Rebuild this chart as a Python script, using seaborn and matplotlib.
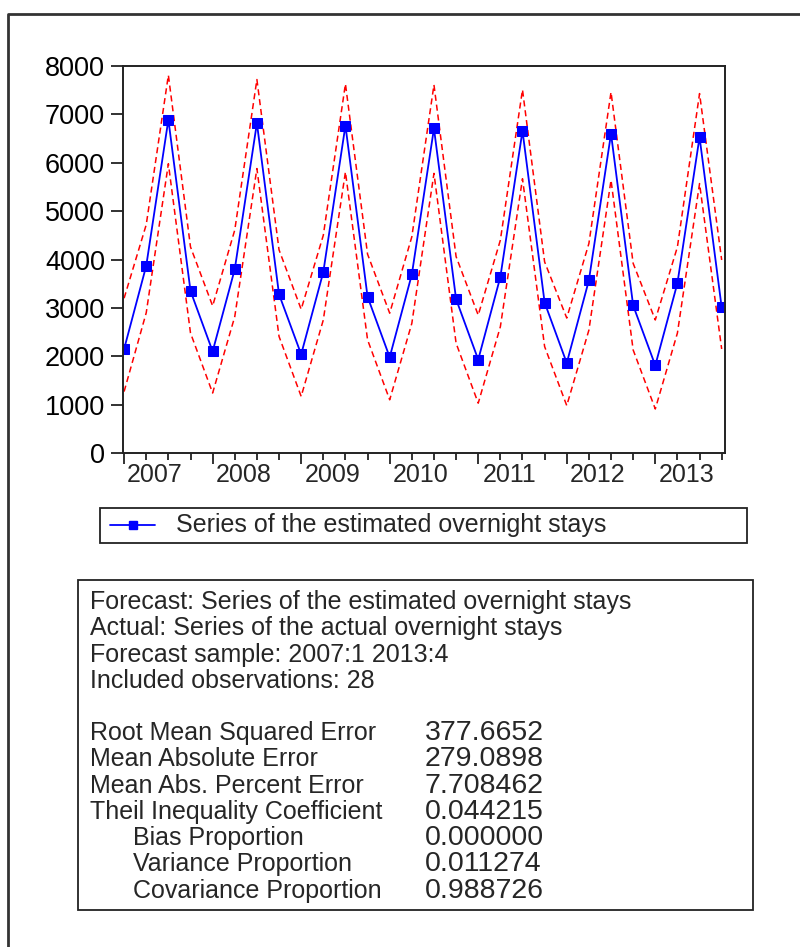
import matplotlib
matplotlib.use("Agg")
import matplotlib.pyplot as plt
import seaborn as sns
import numpy as np
import pandas as pd
from matplotlib.lines import Line2D
from matplotlib.patches import Rectangle

# ---------------- data ----------------
years = ["2007", "2008", "2009", "2010", "2011", "2012", "2013"]
quarters = [f"{y}Q{q}" for y in years for q in range(1, 5)]
forecast = [2150, 3870, 6890, 3350, 2100, 3800, 6820, 3280,
            2040, 3740, 6770, 3230, 1980, 3690, 6710, 3180,
            1930, 3640, 6660, 3110, 1860, 3570, 6600, 3050,
            1810, 3510, 6530, 3010]
upper = [3200, 4720, 7810, 4260, 3040, 4610, 7720, 4200,
         2970, 4500, 7630, 4110, 2890, 4470, 7610, 4060,
         2850, 4400, 7510, 3950, 2790, 4330, 7460, 3920,
         2750, 4260, 7430, 3990]
lower = [1270, 2900, 5980, 2480, 1240, 2820, 5880, 2410,
         1170, 2750, 5810, 2340, 1100, 2680, 5780, 2270,
         1030, 2610, 5670, 2200, 980, 2540, 5640, 2130,
         910, 2480, 5570, 2150]
yticks = [0, 1000, 2000, 3000, 4000, 5000, 6000, 7000, 8000]
legend_label = "Series of the estimated overnight stays"
stats_header = ["Forecast: Series of the estimated overnight stays",
                "Actual: Series of the actual overnight stays",
                "Forecast sample: 2007:1 2013:4",
                "Included observations: 28"]
stats_names = ["Root Mean Squared Error", "Mean Absolute Error",
               "Mean Abs. Percent Error", "Theil Inequality Coefficient",
               "Bias Proportion", "Variance Proportion", "Covariance Proportion"]
stats_indent = [False, False, False, False, True, True, True]
stats_values = ["377.6652", "279.0898", "7.708462", "0.044215",
                "0.000000", "0.011274", "0.988726"]

df = pd.DataFrame({"quarter": quarters, "forecast": forecast,
                   "upper": upper, "lower": lower})
df["pos"] = np.arange(len(df))

# ---------------- figure ----------------
sns.set_style("white")
plt.rcParams["font.family"] = ["Liberation Sans", "DejaVu Sans"]
FS = 18
FS_YT = 19.5
FS_YR = 18
FS_VAL = 20.5
W, H = 800, 947
fig = plt.figure(figsize=(W / 100, H / 100), dpi=100)


def fx(px):
    return px / W


def fy(py):
    return 1 - py / H


ax = fig.add_axes([fx(123), fy(453), (725 - 123) / W, (453 - 66) / H])

sns.lineplot(data=df, x="pos", y="upper", ax=ax, color="#ff0000",
             linewidth=1.1, linestyle=(0, (4, 2.5)), legend=False)
sns.lineplot(data=df, x="pos", y="lower", ax=ax, color="#ff0000",
             linewidth=1.1, linestyle=(0, (4, 2.5)), legend=False)
sns.lineplot(data=df, x="pos", y="forecast", ax=ax, color="#0000ff",
             linewidth=1.3, marker="s", markersize=7.5,
             markeredgecolor="#0000ff", markerfacecolor="#0000ff", legend=False)

ax.set_xlim(-0.05, 27.15)
ax.set_ylim(0, 8000)
ax.set_yticks(yticks)
ax.set_yticklabels([str(v) for v in yticks], fontsize=FS_YT)
ax.set_xticks(np.arange(0, 28, 4))
ax.set_xticklabels([])
ax.set_xticks(np.arange(0, 28, 1), minor=True)
ax.tick_params(axis="y", which="major", direction="out", length=9, width=1.3,
               pad=4, left=True, colors="#222222", labelcolor="black")
ax.tick_params(axis="x", which="major", direction="out", length=8, width=1.3,
               bottom=True, colors="#222222")
ax.tick_params(axis="x", which="minor", direction="out", length=5, width=1.3,
               bottom=True, colors="#222222")
for i, y in enumerate(years):
    ax.text(4 * i + 1.4, -0.025, y, transform=ax.get_xaxis_transform(),
            ha="center", va="top", fontsize=FS_YR)
for s in ax.spines.values():
    s.set_color("#222222")
    s.set_linewidth(1.4)
ax.set_xlabel("")
ax.set_ylabel("")
ax.grid(False)

# ---------------- legend box ----------------
fig.patches.append(Rectangle((fx(100), fy(543)), (747 - 100) / W, (543 - 508) / H,
                             transform=fig.transFigure, fill=False,
                             edgecolor="#222222", linewidth=1.3))
fig.lines.append(Line2D([fx(110), fx(155)], [fy(525), fy(525)],
                        transform=fig.transFigure, color="#0000ff", linewidth=1.3))
fig.lines.append(Line2D([fx(133)], [fy(525)], transform=fig.transFigure,
                        color="#0000ff", marker="s", markersize=5.5, linestyle="none"))
fig.text(fx(176), fy(525), legend_label, fontsize=FS, ha="left", va="center")

# ---------------- stats box ----------------
fig.patches.append(Rectangle((fx(78), fy(910)), (753 - 78) / W, (910 - 580) / H,
                             transform=fig.transFigure, fill=False,
                             edgecolor="#222222", linewidth=1.3))
header_y = [602, 628, 655, 681]
for t, y in zip(stats_header, header_y):
    fig.text(fx(90), fy(y), t, fontsize=FS, ha="left", va="center")
row_y = [733, 759, 786, 812, 838, 864, 891]
for name, ind, val, y in zip(stats_names, stats_indent, stats_values, row_y):
    fig.text(fx(133 if ind else 90), fy(y), name, fontsize=FS, ha="left", va="center")
    fig.text(fx(425), fy(y), val, fontsize=FS_VAL, ha="left", va="center")

# ---------------- outer frame ----------------
fig.lines.append(Line2D([fx(8), fx(8), fx(800)], [fy(947), fy(14), fy(14)],
                        transform=fig.transFigure, color="#333333", linewidth=2))

fig.savefig("out.png", dpi=100)
